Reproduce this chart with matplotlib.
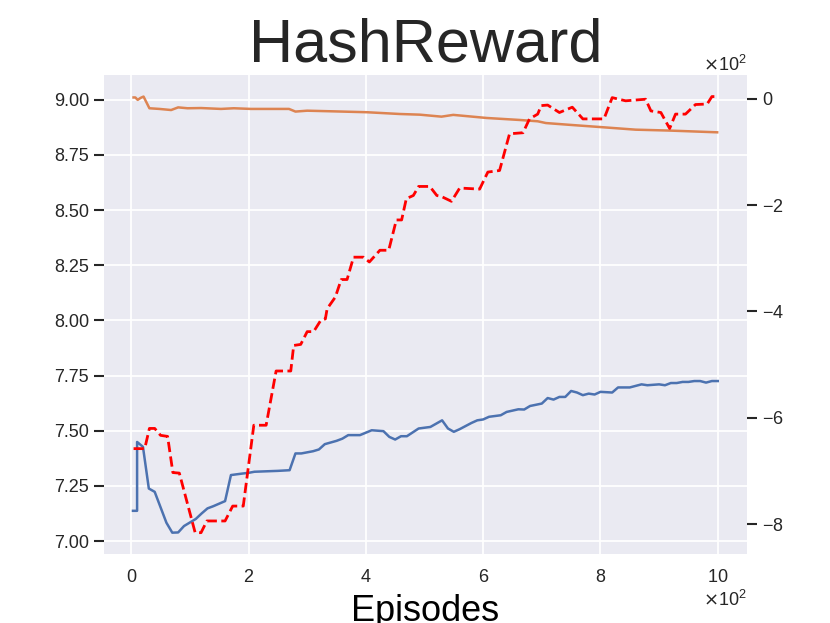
import matplotlib
matplotlib.use("Agg")
import matplotlib.pyplot as plt

# blue curve (left axis)
blue_ep = [3, 10, 10, 20, 30, 40, 60, 70, 80, 90, 110, 120, 130, 140, 160, 170,
           190, 200, 210, 250, 270, 280, 290, 310, 320, 330, 350, 360, 370, 390,
           410, 430, 440, 450, 460, 470, 490, 510, 530, 540, 550, 560, 580, 590,
           600, 610, 630, 640, 660, 670, 680, 700, 710, 720, 730, 740, 750, 760,
           770, 780, 790, 800, 820, 830, 850, 870, 880, 900, 910, 920, 930, 940,
           950, 960, 970, 980, 990, 1000]
blue_val = [7.137, 7.137, 7.449, 7.427, 7.238, 7.223, 7.083, 7.038, 7.039, 7.068,
            7.100, 7.125, 7.148, 7.158, 7.181, 7.299, 7.306, 7.309, 7.314, 7.318,
            7.321, 7.397, 7.397, 7.407, 7.415, 7.439, 7.454, 7.464, 7.480, 7.480,
            7.502, 7.498, 7.472, 7.460, 7.475, 7.475, 7.510, 7.517, 7.547, 7.510,
            7.495, 7.507, 7.535, 7.547, 7.551, 7.563, 7.570, 7.585, 7.597, 7.596,
            7.612, 7.623, 7.648, 7.641, 7.653, 7.653, 7.680, 7.673, 7.661, 7.668,
            7.664, 7.676, 7.673, 7.696, 7.696, 7.710, 7.706, 7.710, 7.706, 7.716,
            7.716, 7.721, 7.721, 7.725, 7.725, 7.718, 7.725, 7.725]

# orange curve (left axis)
orange_ep = [4, 7, 11, 16, 21, 31, 48, 68, 80, 96, 119, 153, 175, 204, 269, 280,
             300, 345, 402, 458, 492, 529, 549, 606, 662, 693, 707, 747, 804, 860,
             917, 999]
orange_val = [9.010, 9.010, 8.999, 9.008, 9.014, 8.961, 8.958, 8.953, 8.965, 8.961,
              8.962, 8.958, 8.961, 8.958, 8.958, 8.946, 8.950, 8.947, 8.943, 8.935,
              8.932, 8.923, 8.931, 8.917, 8.908, 8.902, 8.894, 8.886, 8.875, 8.864,
              8.860, 8.852]

# red dashed curve (right axis)
red_ep = [4, 23, 31, 40, 50, 62, 71, 82, 109, 119, 129, 160, 173, 191, 209, 230,
          247, 272, 277, 289, 300, 311, 323, 331, 334, 348, 358, 368, 379, 396,
          406, 424, 439, 452, 461, 469, 481, 490, 509, 521, 529, 546, 560, 594,
          608, 628, 645, 668, 679, 693, 699, 710, 730, 752, 770, 806, 820, 843,
          877, 886, 903, 918, 928, 945, 962, 982, 990, 998]
red_val = [-658, -658, -620, -620, -633, -635, -703, -704, -816, -816, -794, -794,
           -766, -766, -614, -614, -512, -512, -464, -462, -438, -438, -417, -414,
           -395, -373, -340, -340, -298, -298, -307, -285, -285, -228, -228, -188,
           -182, -165, -165, -182, -184, -193, -168, -170, -138, -135, -66, -64,
           -38, -29, -13, -12, -26, -16, -38, -38, 2, -4, -1, -23, -26, -56, -29,
           -29, -11, -10, 4, 4]

dark = "#262626"
plt.rcParams.update({
    "font.family": ["Liberation Sans", "DejaVu Sans"],
    "axes.facecolor": "#EAEAF2",
    "figure.facecolor": "white",
    "axes.edgecolor": "white",
    "grid.color": "white",
    "grid.linewidth": 1.3,
    "text.color": dark,
    "xtick.color": dark,
    "ytick.color": dark,
    "xtick.labelsize": 13,
    "ytick.labelsize": 13,
    "xtick.major.size": 7,
    "ytick.major.size": 7,
    "xtick.major.width": 1.5,
    "ytick.major.width": 1.5,
})

fig, ax = plt.subplots(figsize=(8.3, 6.23), dpi=100)
ax.grid(True)
ax.set_axisbelow(True)
ax.plot(blue_ep, blue_val, color="#4C72B0", lw=1.8)
ax.plot(orange_ep, orange_val, color="#DD8452", lw=1.8)

ax2 = ax.twinx()
ax2.plot(red_ep, red_val, "r--", lw=2)
ax2.grid(False)

for a in (ax, ax2):
    for s in a.spines.values():
        s.set_visible(False)

ax.tick_params(axis="x", bottom=False)
ax.tick_params(axis="y", left=True)
ax2.tick_params(axis="y", right=True)

ax.ticklabel_format(axis="x", style="sci", scilimits=(2, 2), useMathText=True)
ax2.ticklabel_format(axis="y", style="sci", scilimits=(2, 2), useMathText=True)
ax.xaxis.get_offset_text().set_fontsize(13)
ax2.yaxis.get_offset_text().set_fontsize(13)

ax.set_title("HashReward", fontsize=44)
ax.set_xlabel("Episodes", fontsize=26, labelpad=6)

fig.savefig("out.png", dpi=100)
